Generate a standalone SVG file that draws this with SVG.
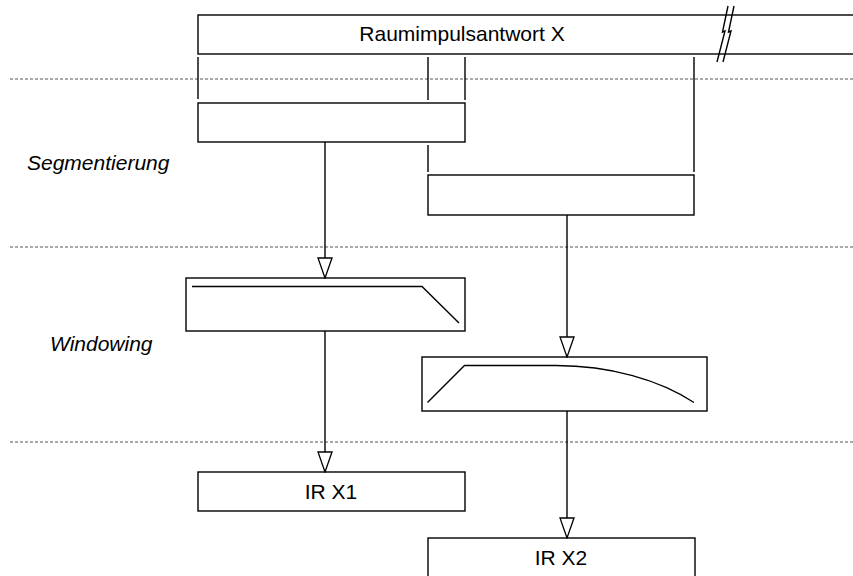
<svg xmlns="http://www.w3.org/2000/svg" width="853" height="576" viewBox="0 0 853 576">
<style>
.box{fill:#fff;stroke:#000;stroke-width:1.4}
.ln{fill:none;stroke:#000;stroke-width:1.4}
.dash{fill:none;stroke:#555;stroke-width:1;stroke-dasharray:3,2}
.t{font-family:"Liberation Sans",Arial,sans-serif;font-size:21px;fill:#000;text-anchor:middle}
.lab{font-family:"Liberation Sans",Arial,sans-serif;font-size:21px;font-style:italic;fill:#000}
</style>
<defs>
<marker id="arr" markerUnits="userSpaceOnUse" markerWidth="22" markerHeight="16" refX="21" refY="8" orient="auto" viewBox="0 0 22 16">
<path d="M1,1 L21,8 L1,15 Z" fill="#fff" stroke="#000" stroke-width="1.3"/>
</marker>
</defs>
<rect width="853" height="576" fill="#fff"/>
<g id="separators">
<line class="dash" x1="10" y1="79" x2="853" y2="79"/>
<line class="dash" x1="10" y1="247" x2="853" y2="247"/>
<line class="dash" x1="10" y1="442" x2="853" y2="442"/>
</g>
<g id="labels">
<text class="lab" x="27" y="170">Segmentierung</text>
<text class="lab" x="50" y="351">Windowing</text>
</g>
<g id="node-rir">
<rect class="box" x="198" y="15" width="670" height="39"/>
<text class="t" x="462" y="41">Raumimpulsantwort X</text>
<path class="ln" d="M728,6 L722.5,32 L725,31 L717,62"/>
<path class="ln" d="M734,6 L728.5,32 L731,31 L723,62"/>
</g>
<g id="node-seg1">
<rect class="box" x="198" y="103" width="267" height="39"/>
</g>
<g id="node-seg2">
<rect class="box" x="428" y="175" width="266" height="40"/>
</g>
<g id="node-win1">
<rect class="box" x="186" y="278" width="279" height="53"/>
<path class="ln" d="M192,286.5 L422,286.5 L459,323"/>
</g>
<g id="node-win2">
<rect class="box" x="422" y="357" width="285" height="54"/>
<path class="ln" d="M427.5,402.5 L464.5,365.5 L556,365.5 C610,365.5 660,380 694,402.5"/>
</g>
<g id="node-ir1">
<rect class="box" x="198" y="472" width="267" height="39"/>
<text class="t" x="331" y="499">IR X1</text>
</g>
<g id="node-ir2">
<rect class="box" x="428" y="538" width="267" height="40"/>
<text class="t" x="561" y="565">IR X2</text>
</g>
<g id="connectors">
<line class="ln" x1="198" y1="57" x2="198" y2="99"/>
<line class="ln" x1="428" y1="57" x2="428" y2="100"/>
<line class="ln" x1="465" y1="57" x2="465" y2="100"/>
<line class="ln" x1="694" y1="57" x2="694" y2="172"/>
<line class="ln" x1="428" y1="145" x2="428" y2="172"/>
<line class="ln" x1="325" y1="142" x2="325" y2="278" marker-end="url(#arr)"/>
<line class="ln" x1="567" y1="215" x2="567" y2="357" marker-end="url(#arr)"/>
<line class="ln" x1="325" y1="331" x2="325" y2="472" marker-end="url(#arr)"/>
<line class="ln" x1="567" y1="411" x2="567" y2="538" marker-end="url(#arr)"/>
</g>
</svg>
